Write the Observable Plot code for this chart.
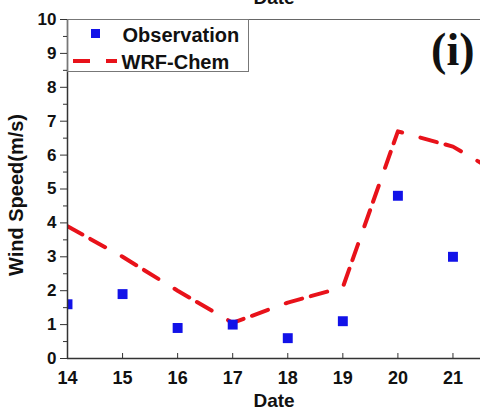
<!DOCTYPE html>
<html>
<head>
<meta charset="utf-8">
<script src="https://cdn.jsdelivr.net/npm/d3@7"></script>
<script src="https://cdn.jsdelivr.net/npm/@observablehq/plot@0.6"></script>
<style>
  html, body { margin: 0; padding: 0; background: #fff; overflow: hidden; }
  svg { display: block; }
</style>
</head>
<body>
<div id="chart"></div>
<script>
const dates = [14, 15, 16, 17, 18, 19, 20, 21];
const observation = [1.6, 1.9, 0.9, 1.0, 0.6, 1.1, 4.8, 3.0];
const wrfDates = [14, 15, 16, 17, 18, 19, 20, 21, 22];
const wrfChem = [3.9, 3.0, 2.0, 1.05, 1.65, 2.1, 6.7, 6.25, 5.3];
const xTicks = [14, 15, 16, 17, 18, 19, 20, 21];
const yTicks = [0, 1, 2, 3, 4, 5, 6, 7, 8, 9, 10];
const yMinor = [0.5, 1.5, 2.5, 3.5, 4.5, 5.5, 6.5, 7.5, 8.5, 9.5];
const seriesNames = ["Observation", "WRF-Chem"];
const yLabel = "Wind Speed(m/s)";
const xLabel = "Date";
const panelTag = "(i)";

const obsData = dates.map((d, i) => ({date: d, value: observation[i]}));
const wrfData = wrfDates.map((d, i) => ({date: d, value: wrfChem[i]}));

const RED = "#e8121a";
const BLUE = "#1212e8";
const AXIS = "#333";
const FONT = "'Liberation Sans', Arial, sans-serif";

const plot = Plot.plot({
  width: 480,
  height: 411,
  marginLeft: 67,
  marginRight: 0,
  marginTop: 19,
  marginBottom: 53,
  style: {fontFamily: FONT, background: "#fff", overflow: "visible"},
  x: {domain: [14, 21.5]},
  y: {domain: [0, 10]},
  marks: [
    Plot.ruleY([10], {stroke: "#666", strokeWidth: 1}),
    Plot.line(wrfData, {x: "date", y: "value", stroke: RED, strokeWidth: 4, strokeDasharray: "17,9,17,19", clip: true}),
    Plot.dot(obsData, {x: "date", y: "value", symbol: "square", fill: BLUE, r: 5.6, clip: true}),
    Plot.axisY({ticks: yTicks, tickSize: 7, tickPadding: 4, fontSize: 17, fontWeight: "bold", fill: "#111", stroke: AXIS, label: null}),
    Plot.axisY({ticks: yMinor, tickSize: 4, text: null, stroke: AXIS, label: null}),
    Plot.axisX({ticks: xTicks, tickSize: -5, text: null, stroke: AXIS, label: null}),
    Plot.axisX({ticks: xTicks, tickSize: 0, tickPadding: 13, fontSize: 18, fontWeight: "bold", fill: "#111", label: null}),
    Plot.ruleX([14], {stroke: AXIS, strokeWidth: 1.5}),
    Plot.ruleY([0], {stroke: AXIS, strokeWidth: 1.5}),
    Plot.text([yLabel], {frameAnchor: "left", textAnchor: "middle", rotate: -90, dx: -51, dy: 6, fontSize: 20, fontWeight: "bold", fill: "#111"}),
    Plot.text([xLabel], {frameAnchor: "bottom", lineAnchor: "bottom", dy: 48, fontSize: 19, fontWeight: "bold", fill: "#111"}),
    Plot.text([xLabel], {frameAnchor: "top", lineAnchor: "bottom", dy: -16, fontSize: 19, fontWeight: "bold", fill: "#111"}),
    Plot.text([panelTag], {frameAnchor: "top-right", textAnchor: "end", lineAnchor: "bottom", dx: -6, dy: 45, fontSize: 46, fontWeight: "bold", fontFamily: "'Liberation Serif', 'Times New Roman', serif", fill: "#111"}),
    Plot.text([seriesNames[0]], {frameAnchor: "top-left", textAnchor: "start", lineAnchor: "bottom", dx: 55, dy: 22, fontSize: 20, fontWeight: "bold", fill: "#111"}),
    Plot.text([seriesNames[1]], {frameAnchor: "top-left", textAnchor: "start", lineAnchor: "bottom", dx: 54, dy: 49, fontSize: 20, fontWeight: "bold", fill: "#111"})
  ]
});

// legend box and samples
const svg = d3.select(plot);
const g = svg.append("g");
g.append("rect").attr("x", 67.5).attr("y", 19.5).attr("width", 181).attr("height", 52)
  .attr("fill", "none").attr("stroke", "#777").attr("stroke-width", 1);
g.append("rect").attr("x", 91).attr("y", 29).attr("width", 9).attr("height", 9).attr("fill", BLUE);
g.append("line").attr("x1", 73).attr("x2", 117).attr("y1", 61).attr("y2", 61)
  .attr("stroke", RED).attr("stroke-width", 4).attr("stroke-dasharray", "17,16");

document.getElementById("chart").appendChild(plot);
</script>
</body>
</html>
